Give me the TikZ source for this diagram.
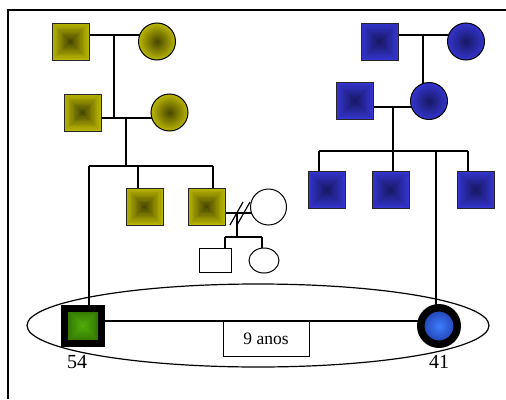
\documentclass[tikz,border=0pt]{standalone}
\usepackage{fontspec}
\setmainfont{Liberation Serif}
\usetikzlibrary{shapes.geometric,backgrounds}
\definecolor{yelout}{RGB}{186,182,0}
\definecolor{yelin}{RGB}{72,72,0}
\definecolor{bluout}{RGB}{52,52,206}
\definecolor{bluin}{RGB}{24,24,100}
\definecolor{grnout}{RGB}{44,110,0}
\definecolor{grnin}{RGB}{82,172,10}
\definecolor{pout}{RGB}{30,60,170}
\definecolor{pin}{RGB}{62,125,255}
\tikzset{
  pyr/.style n args={3}{fill=#1, path picture={
    \foreach \k in {1,...,14}{
      \pgfmathsetmacro\s{#3*(1-\k/15)}
      \pgfmathtruncatemacro\p{\k*100/14}
      \fill[#2!\p!#1, shift={(path picture bounding box.center)}] (-\s pt,-\s pt) rectangle (\s pt,\s pt);
    }}},
  sq/.style={rectangle, draw=black!85, line width=1pt, minimum size=37pt, inner sep=0pt},
  ysq/.style={sq, pyr={yelout}{yelin}{18.5}},
  bsq/.style={sq, pyr={bluout}{bluin}{18.5}},
  ci/.style 2 args={circle, draw=black, line width=1pt, minimum size=37pt, inner sep=0pt, inner color=#2, outer color=#1},
  wh/.style={draw=black, line width=1pt, fill=white, inner sep=0pt},
  con/.style={line width=1.2pt, draw=black},
  lab/.style={font=\fontsize{20}{24}\selectfont, inner sep=0pt},
}
\begin{document}
\begin{tikzpicture}[x=1pt,y=-1pt]
\useasboundingbox (0,0) rectangle (506,399);
\draw[line width=2pt] (7.5,399) -- (7.5,10) -- (506,10);
% yellow family
\node[ysq] (Y1) at (70.5,41.5) {};
\node[ci={yelout}{yelin}] (Y2) at (157,41.5) {};
\node[ysq] (Y3) at (82.5,112.5) {};
\node[ci={yelout}{yelin}] (Y4) at (169.5,112.5) {};
\node[ysq] (Y5) at (144.5,207) {};
\node[ysq] (Y6) at (206.5,207) {};
\node[wh, circle, minimum size=36pt] (W1) at (268.5,207) {};
\node[wh, rectangle, minimum width=32pt, minimum height=24pt] (W2) at (215,260.5) {};
\node[wh, ellipse, minimum width=30pt, minimum height=25pt] (W3) at (264,260.5) {};
% blue family
\node[bsq] (B1) at (379.5,41.5) {};
\node[ci={bluout}{bluin}] (B2) at (466,41.5) {};
\node[bsq] (B3) at (355,101) {};
\node[ci={bluout}{bluin}] (B4) at (429,101) {};
\node[bsq] (B5) at (327,190) {};
\node[bsq] (B6) at (390.5,190) {};
\node[bsq] (B7) at (476,190) {};
% couple
\node[rectangle, draw=black, line width=7pt, minimum width=37pt, minimum height=35.5pt, inner sep=0pt, pyr={grnout}{grnin}{18}] (G) at (83,326) {};
\node[circle, draw=black, line width=7.5pt, minimum size=36.5pt, inner sep=0pt, inner color=pin, outer color=pout] (P) at (439,326) {};
\node[wh, rectangle, minimum width=86pt, minimum height=35pt, font=\fontsize{17.5}{20}\selectfont] (T) at (266,338.5) {9 anos};
\node[lab] (l54) at (77,362) {54};
\node[lab] (l41) at (439,362) {41};
% junction coordinates
\coordinate (m1) at (114,35);
\coordinate (m2) at (126,118);
\coordinate (d1) at (89,166);
\coordinate (d2) at (138,166);
\coordinate (d3) at (213,166);
\coordinate (m5) at (237,213);
\coordinate (e1) at (225,237);
\coordinate (e2) at (262,237);
\coordinate (m3) at (423,35);
\coordinate (m4) at (393,107);
\coordinate (f1) at (319,151);
\coordinate (f2) at (393,151);
\coordinate (f3) at (436,151);
\coordinate (f4) at (468,151);
\coordinate (mg) at (258,321);
\begin{pgfonlayer}{background}
\node[ellipse, draw=black, line width=1.2pt, minimum width=462pt, minimum height=83pt, inner sep=0pt] (E) at (258,325.5) {};
\draw[con] (Y1.east |- m1) -- (Y2.center |- m1);
\draw[con] (m1) -- (m1 |- m2);
\draw[con] (Y3.east |- m2) -- (Y4.center |- m2);
\draw[con] (m2) -- (m2 |- d1);
\draw[con] (d1) -- (d3);
\draw[con] (d1) -- (d1 |- G.north);
\draw[con] (d2) -- (d2 |- Y5.north);
\draw[con] (d3) -- (d3 |- Y6.north);
\draw[con] (Y6.east |- m5) -- (W1.center |- m5);
\draw[con] (m5) -- (m5 |- e1);
\draw[con] (e1) -- (e2);
\draw[con] (e1) -- (e1 |- W2.north);
\draw[con] (e2) -- (e2 |- W3.north);
\draw[con] (B1.east |- m3) -- (B2.center |- m3);
\draw[con] (m3) -- (m3 |- B4.center);
\draw[con] (B3.east |- m4) -- (B4.center |- m4);
\draw[con] (m4) -- (f2);
\draw[con] (f1) -- (f4);
\draw[con] (f1) -- (f1 |- B5.north);
\draw[con] (f2) -- (f2 |- B6.north);
\draw[con] (f3) -- (f3 |- P.center);
\draw[con] (f4) -- (f4 |- B7.north);
\draw[con] (G.east |- mg) -- (P.center |- mg);
\end{pgfonlayer}
\draw[con] (230,225) -- (243,202);
\draw[con] (237,225) -- (250,202);
\end{tikzpicture}
\end{document}
